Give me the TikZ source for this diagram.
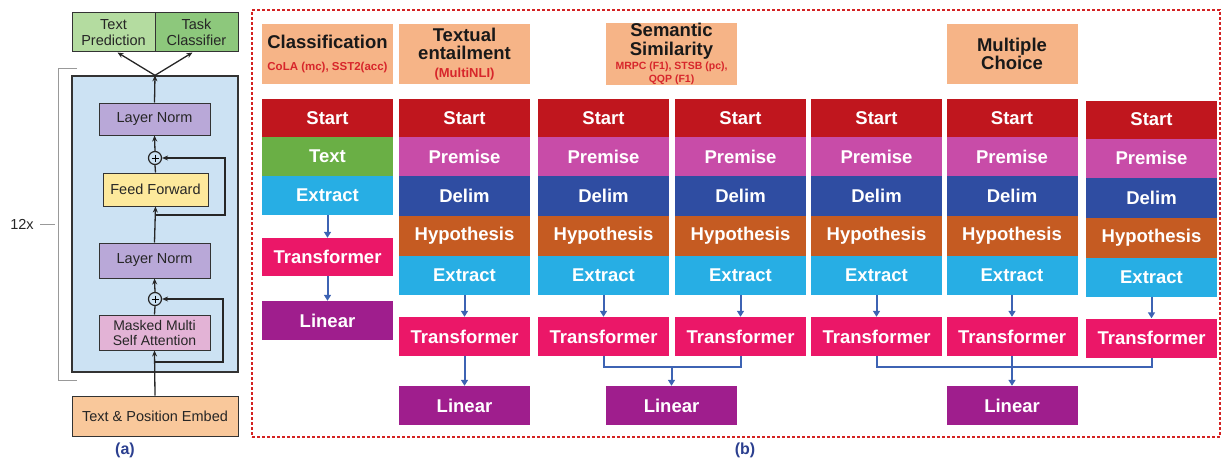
\documentclass[tikz,border=0pt]{standalone}
\usepackage{fontspec}
\setmainfont{Liberation Sans}
\setsansfont{Liberation Sans}
\usetikzlibrary{arrows.meta,calc}
\definecolor{cStart}{HTML}{C0161E}
\definecolor{cText}{HTML}{6AAF45}
\definecolor{cExtract}{HTML}{27AEE4}
\definecolor{cTrans}{HTML}{EB1768}
\definecolor{cLinear}{HTML}{9F1E8D}
\definecolor{cPremise}{HTML}{C84CA8}
\definecolor{cDelim}{HTML}{2F4DA2}
\definecolor{cHypo}{HTML}{C55B22}
\definecolor{cHdr}{HTML}{F6B487}
\definecolor{cSub}{HTML}{D7262B}
\definecolor{cArrow}{HTML}{3D63B3}
\definecolor{cDash}{HTML}{D42222}
\definecolor{cLbl}{HTML}{2B3F8F}
\definecolor{aBlock}{HTML}{CCE2F3}
\definecolor{aLN}{HTML}{B9A8D8}
\definecolor{aFF}{HTML}{FDE99C}
\definecolor{aMM}{HTML}{E3B3D6}
\definecolor{aEmb}{HTML}{F9C89B}
\definecolor{aTP}{HTML}{B4DCA0}
\definecolor{aTC}{HTML}{8DC87C}
\newcommand{\cellfnt}{\fontsize{18.5}{20}\selectfont\bfseries}
\newcommand{\hdrfnt}{\fontsize{18.5}{18.5}\selectfont\bfseries}
\newcommand{\subfnt}{\fontsize{10.5}{11}\selectfont\bfseries}
\newcommand{\afnt}{\fontsize{14.5}{16}\selectfont}
\newcommand{\mkcol}[3]{%
  \node[cell,fill=cStart,minimum height=38pt] (#1s) at (#2,118+#3) {Start};
  \node[cell,fill=cPremise,minimum height=39pt] (#1p) at (#2,156.5+#3) {Premise};
  \node[cell,fill=cDelim,minimum height=40pt] (#1d) at (#2,196+#3) {Delim};
  \node[cell,fill=cHypo,minimum height=40pt] (#1h) at (#2,236+#3) {Hypothesis};
  \node[cell,fill=cExtract,minimum height=39pt] (#1e) at (#2,275.5+#3) {Extract};
  \node[cell,fill=cTrans,minimum height=39pt] (#1t) at (#2,336.5+#3) {Transformer};
  \draw[barr] (#1e.south) -- (#1t.north);
}
\begin{document}
\begin{tikzpicture}[x=1pt,y=-1pt,
  cell/.style={inner sep=0pt,minimum width=131pt,text=white,font=\cellfnt},
  hdr/.style={fill=cHdr,inner sep=0pt,minimum width=131pt,minimum height=60pt,align=center,text=black!90,font=\hdrfnt},
  barr/.style={draw=cArrow,line width=2pt,-{Triangle[length=6pt,width=7pt]}},
  bline/.style={draw=cArrow,line width=2pt},
  abox/.style={draw=black!80,line width=1pt,inner sep=0pt,font=\afnt,text=black!85,align=center},
  aarr/.style={draw=black!85,line width=1.3pt,-{Stealth[length=6pt,width=5pt]}},
  aline/.style={draw=black!85,line width=1.3pt},
  plus/.style={circle,draw=black!85,line width=1.2pt,minimum size=13pt,inner sep=0pt,fill=aBlock}
]
\useasboundingbox (0,0) rectangle (1222,460);

% ---------------- (a) ----------------
\node[abox,fill=aTP,minimum width=83pt,minimum height=39pt] (tp) at (113.5,32.5) {Text\\Prediction};
\node[abox,fill=aTC,minimum width=83pt,minimum height=39pt] (tc) at (196.5,32.5) {Task\\Classifier};
\node[abox,fill=aBlock,minimum width=166pt,minimum height=296pt,line width=1.3pt] (blk) at (155,224) {};
\node[abox,fill=aLN,minimum width=111pt,minimum height=32pt] (ln1) at (154.5,119) {Layer Norm};
\node[plus] (p1) at (155,158) {};
\node[abox,fill=aFF,minimum width=105pt,minimum height=33pt] (ff) at (155.5,189.5) {Feed Forward};
\node[abox,fill=aLN,minimum width=111pt,minimum height=35pt] (ln2) at (154.5,260.5) {Layer Norm};
\node[plus] (p2) at (155,299) {};
\node[abox,fill=aMM,minimum width=111pt,minimum height=35pt,font=\fontsize{14}{15}\selectfont] (mm) at (154.5,332.5) {Masked Multi\\Self Attention};
\node[abox,fill=aEmb,minimum width=166pt,minimum height=40pt] (emb) at (155,416) {Text \& Position Embed};
\foreach \p in {p1,p2}{
  \draw[line width=1pt] ($(\p.center)+(-3.5,0)$) -- ($(\p.center)+(3.5,0)$);
  \draw[line width=1pt] ($(\p.center)+(0,-3.5)$) -- ($(\p.center)+(0,3.5)$);
}
\draw[aarr] (emb.north) -- (mm.south);
\draw[aline] (mm.north) -- (p2.south);
\draw[aarr] (p2.north) -- (ln2.south);
\draw[aarr] (ln2.north) -- (ff.south);
\draw[aline] (ff.north) -- (p1.south);
\draw[aarr] (p1.north) -- (ln1.south);
\draw[aarr] (ln1.north) -- (blk.north);
\draw[aarr] (blk.north) -- ($(tp.south)+(4,0)$);
\draw[aarr] (blk.north) -- ($(tc.south)+(-4,0)$);
\coordinate (r1) at (155,215);
\coordinate (r1t) at (225,215);
\draw[aarr] (r1) -- (r1t) |- (p1.east);
\coordinate (r2) at (155,362);
\coordinate (r2t) at (223,362);
\draw[aarr] (r2) -- (r2t) |- (p2.east);
% bracket
\coordinate (bt) at (77,68);
\coordinate (bb) at (77,380);
\draw[gray!80,line width=1pt] (bt) -- ++(-19,0) |- (bb);
\node[font=\fontsize{14.5}{16}\selectfont,text=black!85] (rep) at (22,224) {12x};
\coordinate (rd) at (55,224);
\draw[gray!80,line width=1pt] (rep.east) ++(3,0) -- (rd);
\node[font=\fontsize{16}{18}\selectfont\bfseries,text=cLbl] (la) at (125,450) {(a)};

% ---------------- (b) ----------------
\node[draw=cDash,line width=1.3pt,dash pattern=on 3pt off 2pt,inner sep=0pt,minimum width=968pt,minimum height=427pt] (frame) at (736,223.5) {};
\node[font=\fontsize{16}{18}\selectfont\bfseries,text=cLbl] (lb) at (745,450) {(b)};

\node[hdr] (hC) at (327.5,54) {Classification\\[4pt]{\fontsize{11.5}{12}\selectfont\bfseries\color{cSub}CoLA (mc), SST2(acc)}};
\node[hdr] (hT) at (464.5,54) {Textual\\entailment\\[-1pt]{\fontsize{13}{13}\selectfont\bfseries\color{cSub}(MultiNLI)}};
\node[hdr] (hS) at (671.5,54) {Semantic\\Similarity\\[-4pt]{\subfnt\color{cSub}MRPC (F1), STSB (pc),}\\[-6pt]{\subfnt\color{cSub}QQP (F1)}};
\node[hdr] (hM) at (1012,54) {Multiple\\Choice};

% column 1 (classification)
\node[cell,fill=cStart,minimum height=38pt] (a1s) at (327.5,118) {Start};
\node[cell,fill=cText,minimum height=39pt] (a1x) at (327.5,156.5) {Text};
\node[cell,fill=cExtract,minimum height=39pt] (a1e) at (327.5,195.5) {Extract};
\node[cell,fill=cTrans,minimum height=38pt] (a1t) at (327.5,257) {Transformer};
\node[cell,fill=cLinear,minimum height=39pt] (a1l) at (327.5,320.5) {Linear};
\draw[barr] (a1e.south) -- (a1t.north);
\draw[barr] (a1t.south) -- (a1l.north);

% column 2 (entailment)
\mkcol{b}{464.5}{0}
\node[cell,fill=cLinear,minimum height=39pt] (bl) at (464.5,405.5) {Linear};
\draw[barr] (bt.south) -- (bl.north);

% columns 3,4 (similarity)
\mkcol{c}{603.5}{0}
\mkcol{d}{740.5}{0}
\node[cell,fill=cLinear,minimum height=39pt] (sl) at (671.5,405.5) {Linear};
\coordinate (js) at (671.5,367);
\draw[bline] (ct.south) |- (js) -| (dt.south);
\draw[barr] (js) -- (sl.north);

% columns 5,6,7 (multiple choice)
\mkcol{e}{876.5}{0}
\mkcol{f}{1012}{0}
\mkcol{g}{1151.5}{1.5}
\node[cell,fill=cLinear,minimum height=39pt] (ml) at (1012,405.5) {Linear};
\coordinate (jm) at (1012,367);
\draw[bline] (et.south) |- (jm) -| (gt.south);
\draw[barr] (ft.south) -- (ml.north);
\end{tikzpicture}
\end{document}
